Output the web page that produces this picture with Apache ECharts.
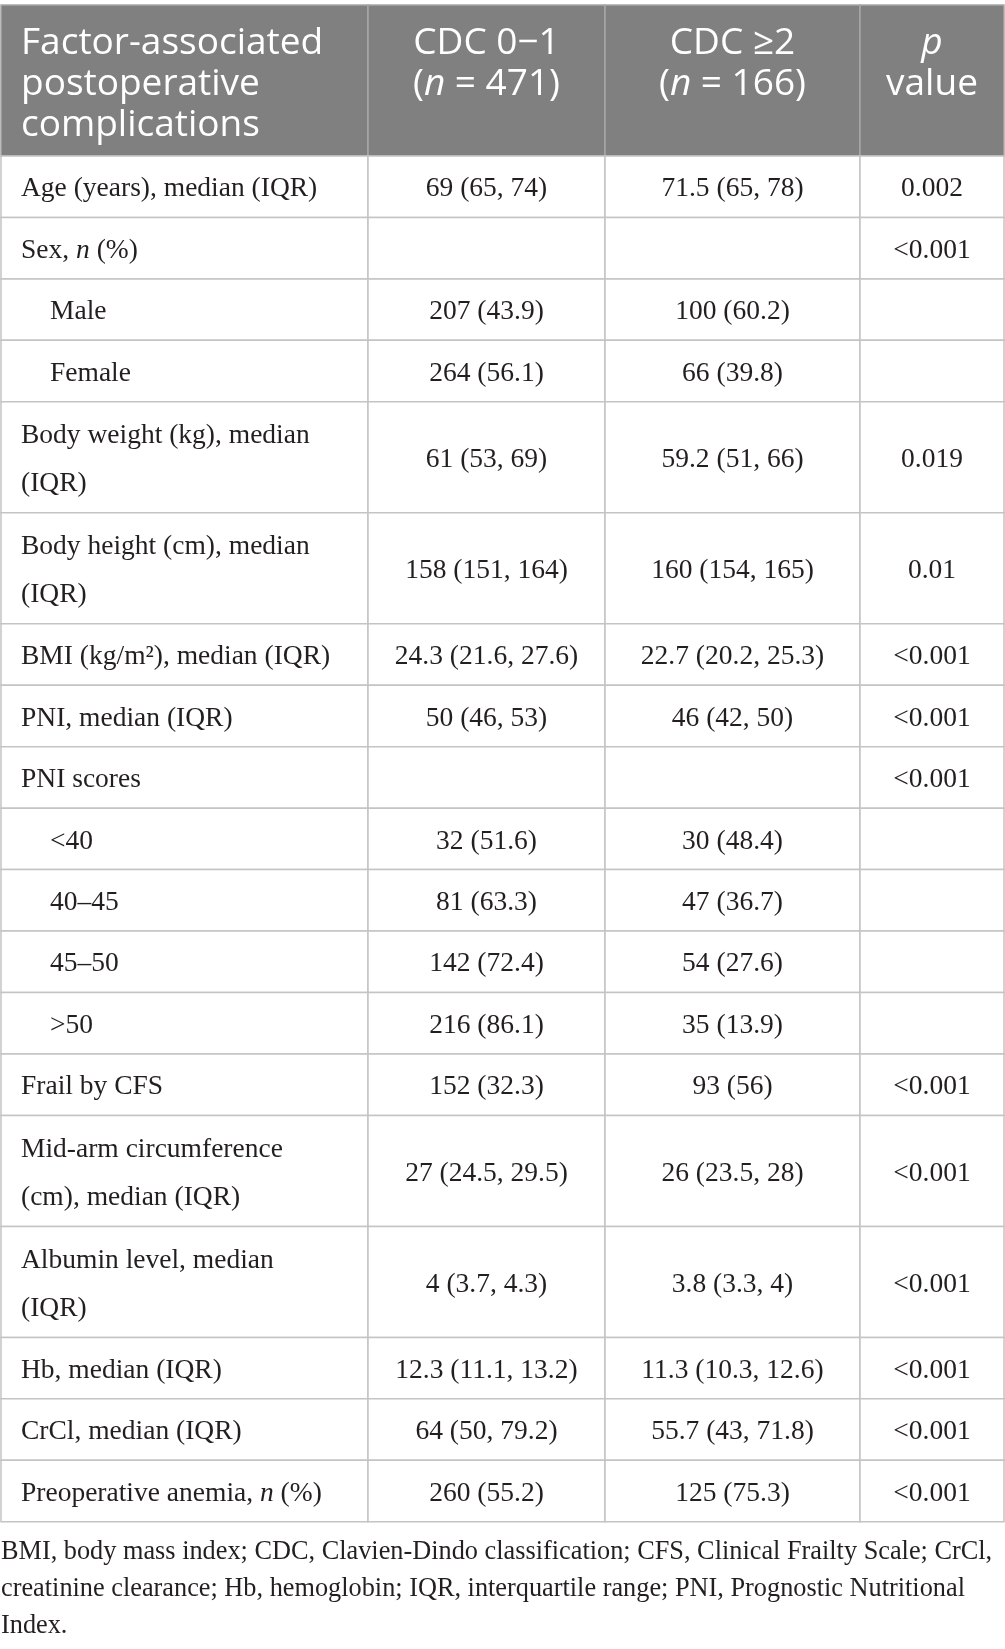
<!DOCTYPE html>
<html>
<head>
<meta charset="utf-8">
<script src="https://cdn.jsdelivr.net/npm/echarts@6.0.0/dist/echarts.min.js"></script>
<style>
  html, body { margin: 0; padding: 0; background: #fff; }
  #main { width: 1005px; height: 1649px; }
</style>
</head>
<body>
<div id="main"></div>
<script>
// table contents, row by row
var headers = [
  'Factor-associated\npostoperative\ncomplications',
  'CDC 0\u22121\n({i|n} = 471)',
  'CDC \u22652\n({i|n} = 166)',
  '{i|p}\nvalue'
];
var factors = [
  'Age (years), median (IQR)',
  'Sex, {i|n} (%)',
  'Male',
  'Female',
  'Body weight (kg), median\n(IQR)',
  'Body height (cm), median\n(IQR)',
  'BMI (kg/m\u00b2), median (IQR)',
  'PNI, median (IQR)',
  'PNI scores',
  '<40',
  '40\u201345',
  '45\u201350',
  '>50',
  'Frail by CFS',
  'Mid-arm circumference\n(cm), median (IQR)',
  'Albumin level, median\n(IQR)',
  'Hb, median (IQR)',
  'CrCl, median (IQR)',
  'Preoperative anemia, {i|n} (%)'
];
var levels = [0, 0, 1, 1, 0, 0, 0, 0, 0, 1, 1, 1, 1, 0, 0, 0, 0, 0, 0];
var cdc01 = ['69 (65, 74)', '', '207 (43.9)', '264 (56.1)', '61 (53, 69)', '158 (151, 164)',
  '24.3 (21.6, 27.6)', '50 (46, 53)', '', '32 (51.6)', '81 (63.3)', '142 (72.4)', '216 (86.1)',
  '152 (32.3)', '27 (24.5, 29.5)', '4 (3.7, 4.3)', '12.3 (11.1, 13.2)', '64 (50, 79.2)', '260 (55.2)'];
var cdc2 = ['71.5 (65, 78)', '', '100 (60.2)', '66 (39.8)', '59.2 (51, 66)', '160 (154, 165)',
  '22.7 (20.2, 25.3)', '46 (42, 50)', '', '30 (48.4)', '47 (36.7)', '54 (27.6)', '35 (13.9)',
  '93 (56)', '26 (23.5, 28)', '3.8 (3.3, 4)', '11.3 (10.3, 12.6)', '55.7 (43, 71.8)', '125 (75.3)'];
var pValues = ['0.002', '<0.001', '', '', '0.019', '0.01', '<0.001', '<0.001', '<0.001', '', '', '', '',
  '<0.001', '<0.001', '<0.001', '<0.001', '<0.001', '<0.001'];
var footnote = 'BMI, body mass index; CDC, Clavien-Dindo classification; CFS, Clinical Frailty Scale; CrCl,\n' +
  'creatinine clearance; Hb, hemoglobin; IQR, interquartile range; PNI, Prognostic Nutritional\n' +
  'Index.';

// layout (in axis units = pixels)
var colEdges = [1, 368, 605, 860, 1004];
var tableTop = 5;
var headerH = 151;
var singleH = 61.45;
var doubleH = 111;

var rows = [headers];
factors.forEach(function (f, i) {
  rows.push([f, cdc01[i], cdc2[i], pValues[i]]);
});

var rowTops = [tableTop, tableTop + headerH];
for (var r = 1; r < rows.length; r++) {
  var lines = Math.max.apply(null, rows[r].map(function (t) { return t.split('\n').length; }));
  rowTops.push(rowTops[r] + (lines > 1 ? doubleH : singleH));
}

var cells = [];
rows.forEach(function (row, r) {
  row.forEach(function (t, c) { cells.push([c, r]); });
});

var serif = '"Liberation Serif", "Times New Roman", serif';
var sans = '"Open Sans", "Noto Sans", sans-serif';

function renderCell(params, api) {
  var c = api.value(0);
  var r = api.value(1);
  var p0 = api.coord([colEdges[c], rowTops[r]]);
  var p1 = api.coord([colEdges[c + 1], rowTops[r + 1]]);
  var isHead = r === 0;
  var text = rows[r][c];
  var tx = c === 0 ? p0[0] + 20 + (isHead ? 0 : levels[r - 1] * 29) : (p0[0] + p1[0]) / 2;
  var textStyle = isHead ? {
    text: text,
    x: tx,
    y: p0[1] + 18,
    align: c === 0 ? 'left' : 'center',
    verticalAlign: 'top',
    fill: '#ffffff',
    fontFamily: sans,
    fontSize: 37,
    lineHeight: 41,
    rich: { i: { fontStyle: 'italic', fontFamily: sans, fontSize: 37, lineHeight: 41, fill: '#ffffff' } }
  } : {
    text: text,
    x: tx,
    y: (p0[1] + p1[1]) / 2 + 2.5,
    align: c === 0 ? 'left' : 'center',
    verticalAlign: 'middle',
    fill: '#231f20',
    fontFamily: serif,
    fontSize: 27.5,
    lineHeight: 48,
    rich: { i: { fontStyle: 'italic', fontFamily: serif, fontSize: 27.5, lineHeight: 48, fill: '#231f20' } }
  };
  return {
    type: 'group',
    children: [
      {
        type: 'rect',
        shape: { x: p0[0], y: p0[1], width: p1[0] - p0[0], height: p1[1] - p0[1] },
        style: {
          fill: isHead ? '#808080' : '#ffffff',
          stroke: isHead ? '#a6a6a6' : '#c4c4c4',
          lineWidth: 1.5
        }
      },
      { type: 'text', style: textStyle }
    ]
  };
}

var chartDom = document.getElementById('main');
var myChart = echarts.init(chartDom);
var option = {
  animation: false,
  title: {
    text: footnote,
    left: 1,
    top: 1534,
    padding: 0,
    textStyle: {
      fontFamily: serif,
      fontSize: 26.3,
      fontWeight: 'normal',
      lineHeight: 37,
      color: '#231f20'
    }
  },
  grid: { left: 0, right: 0, top: 0, bottom: 0 },
  xAxis: { type: 'value', min: 0, max: 1005, show: false },
  yAxis: { type: 'value', min: 0, max: 1649, inverse: true, show: false },
  series: [
    {
      type: 'custom',
      coordinateSystem: 'cartesian2d',
      renderItem: renderCell,
      data: cells,
      silent: true
    }
  ]
};

option && myChart.setOption(option);
</script>
</body>
</html>
